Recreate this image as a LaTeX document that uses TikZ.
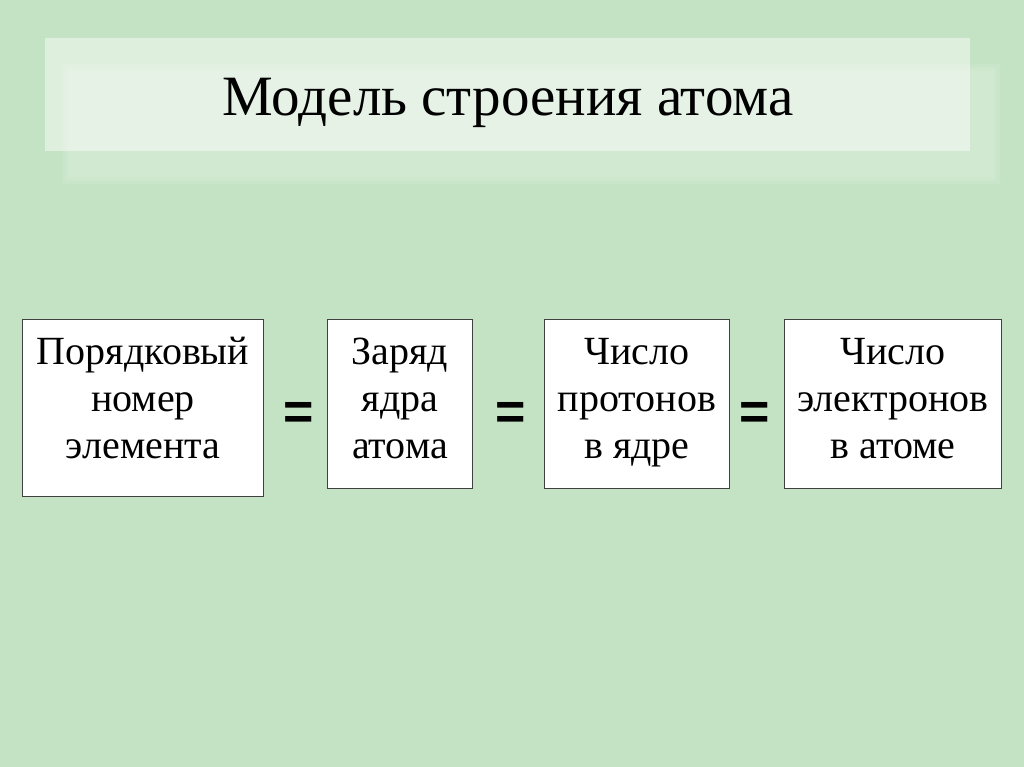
\documentclass[tikz,border=0pt]{standalone}
\usepackage{fontspec}
\setmainfont{Liberation Serif}
\newfontfamily\eqfont{Liberation Sans}
\usetikzlibrary{positioning}
\definecolor{bggreen}{HTML}{C4E3C4}
\tikzset{
  numbox/.style={draw=black!75, line width=1.1pt, fill=white, inner sep=0pt, anchor=north west},
  boxtext/.style={align=center, inner sep=0pt, font=\fontsize{40}{47}\selectfont},
  eqsign/.style={font=\eqfont\bfseries\fontsize{52}{52}\selectfont, inner sep=0pt},
  titletext/.style={font=\fontsize{57}{66}\selectfont, inner sep=0pt, anchor=base}
}
\begin{document}
\begin{tikzpicture}[x=1pt,y=-1pt]
\useasboundingbox (0,0) rectangle (1024,767);
\fill[bggreen] (0,0) rectangle (1024,767);
% soft shadow of title panel
\fill[white, opacity=0.09] (62,64) rectangle (1000,184);
\fill[white, opacity=0.09] (65,67) rectangle (997,181);
\fill[white, opacity=0.09] (68,70) rectangle (994,178);
% title panel
\fill[white, opacity=0.45] (45,38) rectangle (970,151);
\node[titletext] (title) at (508,116) {Модель строения атома};
% boxes
\node[numbox, minimum width=241pt, minimum height=177pt] (b1) at (22,319) {};
\node[numbox, minimum width=145pt, minimum height=169pt] (b2) at (327,319) {};
\node[numbox, minimum width=185pt, minimum height=169pt] (b3) at (544,319) {};
\node[numbox, minimum width=217pt, minimum height=169pt] (b4) at (784,319) {};
\node[boxtext, below=12pt of b1.north] (t1) {\strut Порядковый\\\strut номер\\\strut элемента};
\node[boxtext, below=12pt of b2.north] (t2) {\strut Заряд\\\strut ядра\\\strut атома};
\node[boxtext, below=12pt of b3.north] (t3) {\strut Число\\\strut протонов\\\strut в ядре};
\node[boxtext, below=12pt of b4.north] (t4) {\strut Число\\\strut электронов\\\strut в атоме};
% equals signs
\node[eqsign] (e1) at (298.5,416) {=};
\node[eqsign] (e2) at (511,416) {=};
\node[eqsign] (e3) at (755,416) {=};
\end{tikzpicture}
\end{document}
